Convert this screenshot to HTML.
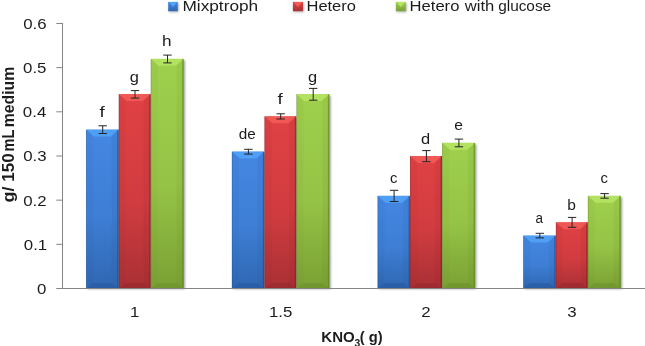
<!DOCTYPE html>
<html><head><meta charset="utf-8"><title>chart</title>
<style>
html,body{margin:0;padding:0;background:#fff;}
body{width:645px;height:346px;overflow:hidden;}
svg{display:block;}
text{font-family:"Liberation Sans",sans-serif;fill:#1c1c1c;stroke:none;}
</style></head><body>
<svg width="645" height="346" viewBox="0 0 645 346">
<defs>
<linearGradient id="gb" x1="0" y1="0" x2="0" y2="1"><stop offset="0" stop-color="#4487e2"/><stop offset="0.55" stop-color="#3e7ed5"/><stop offset="1" stop-color="#2f67b2"/></linearGradient>
<linearGradient id="gr" x1="0" y1="0" x2="0" y2="1"><stop offset="0" stop-color="#e04144"/><stop offset="0.55" stop-color="#d13c40"/><stop offset="1" stop-color="#a93034"/></linearGradient>
<linearGradient id="gg" x1="0" y1="0" x2="0" y2="1"><stop offset="0" stop-color="#9fd04d"/><stop offset="0.55" stop-color="#95c346"/><stop offset="1" stop-color="#7aa134"/></linearGradient>
<linearGradient id="l0" x1="0" y1="0" x2="0" y2="1"><stop offset="0" stop-color="#4487e2"/><stop offset="1" stop-color="#2f67b2"/></linearGradient>
<linearGradient id="l1" x1="0" y1="0" x2="0" y2="1"><stop offset="0" stop-color="#e04144"/><stop offset="1" stop-color="#a93034"/></linearGradient>
<linearGradient id="l2" x1="0" y1="0" x2="0" y2="1"><stop offset="0" stop-color="#9fd04d"/><stop offset="1" stop-color="#7aa134"/></linearGradient>
<filter id="sh" x="-20%" y="-10%" width="150%" height="120%"><feGaussianBlur stdDeviation="0.9"/></filter>
<filter id="bl" x="-20%" y="-50%" width="140%" height="200%"><feGaussianBlur stdDeviation="0.9"/></filter>
<filter id="bm" x="-20%" y="-20%" width="140%" height="140%"><feGaussianBlur stdDeviation="0.45"/></filter>
<filter id="bh" x="-20%" y="-50%" width="140%" height="200%"><feGaussianBlur stdDeviation="0.7"/></filter>
</defs>
<rect width="645" height="346" fill="#fff"/>
<rect x="87.4" y="131.0" width="32.6" height="158.0" fill="#000" opacity="0.38" filter="url(#sh)"/>
<rect x="120.0" y="95.6" width="32.0" height="193.4" fill="#000" opacity="0.38" filter="url(#sh)"/>
<rect x="152.0" y="60.3" width="33.0" height="228.7" fill="#000" opacity="0.38" filter="url(#sh)"/>
<clipPath id="c1"><rect x="86.1" y="129.5" width="32.6" height="159.5"/></clipPath>
<g clip-path="url(#c1)"><rect x="86.1" y="129.5" width="32.6" height="159.5" fill="url(#gb)"/><path d="M86.1 129.5 L93.1 136.5 V283.0 L86.1 289.0 Z" fill="#1d4a8a" opacity="0.05"/><path d="M118.7 129.5 L111.7 136.5 V283.0 L118.7 289.0 Z" fill="#1d4a8a" opacity="0.09"/><path d="M86.1 289.0 L93.1 283.0 H111.7 L118.7 289.0 Z" fill="#1d4a8a" opacity="0.3"/><path d="M85.6 129.0 H119.2 L110.7 136.5 H94.1 Z" fill="#52a4fa" opacity="0.85" filter="url(#bh)"/><rect x="117.2" y="129.5" width="2" height="159.5" fill="#1d4a8a" opacity="0.6" filter="url(#bm)"/><rect x="85.4" y="129.5" width="1.4" height="159.5" fill="#1d4a8a" opacity="0.45" filter="url(#bm)"/></g>
<clipPath id="c2"><rect x="118.7" y="94.1" width="32.0" height="194.9"/></clipPath>
<g clip-path="url(#c2)"><rect x="118.7" y="94.1" width="32.0" height="194.9" fill="url(#gr)"/><path d="M118.7 94.1 L125.7 101.1 V283.0 L118.7 289.0 Z" fill="#7e2023" opacity="0.05"/><path d="M150.7 94.1 L143.7 101.1 V283.0 L150.7 289.0 Z" fill="#7e2023" opacity="0.09"/><path d="M118.7 289.0 L125.7 283.0 H143.7 L150.7 289.0 Z" fill="#7e2023" opacity="0.3"/><path d="M118.2 93.6 H151.2 L142.7 101.1 H126.7 Z" fill="#f25d58" opacity="0.85" filter="url(#bh)"/><rect x="149.2" y="94.1" width="2" height="194.9" fill="#7e2023" opacity="0.6" filter="url(#bm)"/><rect x="118.0" y="94.1" width="1.4" height="194.9" fill="#7e2023" opacity="0.45" filter="url(#bm)"/></g>
<clipPath id="c3"><rect x="150.7" y="58.8" width="33.0" height="230.2"/></clipPath>
<g clip-path="url(#c3)"><rect x="150.7" y="58.8" width="33.0" height="230.2" fill="url(#gg)"/><path d="M150.7 58.8 L157.7 65.8 V283.0 L150.7 289.0 Z" fill="#5e7f26" opacity="0.05"/><path d="M183.7 58.8 L176.7 65.8 V283.0 L183.7 289.0 Z" fill="#5e7f26" opacity="0.09"/><path d="M150.7 289.0 L157.7 283.0 H176.7 L183.7 289.0 Z" fill="#5e7f26" opacity="0.3"/><path d="M150.2 58.3 H184.2 L175.7 65.8 H158.7 Z" fill="#b7e566" opacity="0.85" filter="url(#bh)"/><rect x="182.2" y="58.8" width="2" height="230.2" fill="#5e7f26" opacity="0.6" filter="url(#bm)"/><rect x="150.0" y="58.8" width="1.4" height="230.2" fill="#5e7f26" opacity="0.45" filter="url(#bm)"/></g>
<rect x="233.1" y="153.0" width="32.6" height="136.0" fill="#000" opacity="0.38" filter="url(#sh)"/>
<rect x="265.7" y="117.7" width="32.0" height="171.3" fill="#000" opacity="0.38" filter="url(#sh)"/>
<rect x="297.7" y="95.6" width="33.0" height="193.4" fill="#000" opacity="0.38" filter="url(#sh)"/>
<clipPath id="c4"><rect x="231.8" y="151.5" width="32.6" height="137.5"/></clipPath>
<g clip-path="url(#c4)"><rect x="231.8" y="151.5" width="32.6" height="137.5" fill="url(#gb)"/><path d="M231.8 151.5 L238.8 158.5 V283.0 L231.8 289.0 Z" fill="#1d4a8a" opacity="0.05"/><path d="M264.4 151.5 L257.4 158.5 V283.0 L264.4 289.0 Z" fill="#1d4a8a" opacity="0.09"/><path d="M231.8 289.0 L238.8 283.0 H257.4 L264.4 289.0 Z" fill="#1d4a8a" opacity="0.3"/><path d="M231.3 151.0 H264.9 L256.4 158.5 H239.8 Z" fill="#52a4fa" opacity="0.85" filter="url(#bh)"/><rect x="262.9" y="151.5" width="2" height="137.5" fill="#1d4a8a" opacity="0.6" filter="url(#bm)"/><rect x="231.1" y="151.5" width="1.4" height="137.5" fill="#1d4a8a" opacity="0.45" filter="url(#bm)"/></g>
<clipPath id="c5"><rect x="264.4" y="116.2" width="32.0" height="172.8"/></clipPath>
<g clip-path="url(#c5)"><rect x="264.4" y="116.2" width="32.0" height="172.8" fill="url(#gr)"/><path d="M264.4 116.2 L271.4 123.2 V283.0 L264.4 289.0 Z" fill="#7e2023" opacity="0.05"/><path d="M296.4 116.2 L289.4 123.2 V283.0 L296.4 289.0 Z" fill="#7e2023" opacity="0.09"/><path d="M264.4 289.0 L271.4 283.0 H289.4 L296.4 289.0 Z" fill="#7e2023" opacity="0.3"/><path d="M263.9 115.7 H296.9 L288.4 123.2 H272.4 Z" fill="#f25d58" opacity="0.85" filter="url(#bh)"/><rect x="294.9" y="116.2" width="2" height="172.8" fill="#7e2023" opacity="0.6" filter="url(#bm)"/><rect x="263.7" y="116.2" width="1.4" height="172.8" fill="#7e2023" opacity="0.45" filter="url(#bm)"/></g>
<clipPath id="c6"><rect x="296.4" y="94.1" width="33.0" height="194.9"/></clipPath>
<g clip-path="url(#c6)"><rect x="296.4" y="94.1" width="33.0" height="194.9" fill="url(#gg)"/><path d="M296.4 94.1 L303.4 101.1 V283.0 L296.4 289.0 Z" fill="#5e7f26" opacity="0.05"/><path d="M329.4 94.1 L322.4 101.1 V283.0 L329.4 289.0 Z" fill="#5e7f26" opacity="0.09"/><path d="M296.4 289.0 L303.4 283.0 H322.4 L329.4 289.0 Z" fill="#5e7f26" opacity="0.3"/><path d="M295.9 93.6 H329.9 L321.4 101.1 H304.4 Z" fill="#b7e566" opacity="0.85" filter="url(#bh)"/><rect x="327.9" y="94.1" width="2" height="194.9" fill="#5e7f26" opacity="0.6" filter="url(#bm)"/><rect x="295.7" y="94.1" width="1.4" height="194.9" fill="#5e7f26" opacity="0.45" filter="url(#bm)"/></g>
<rect x="378.8" y="197.2" width="32.6" height="91.8" fill="#000" opacity="0.38" filter="url(#sh)"/>
<rect x="411.4" y="157.4" width="32.0" height="131.6" fill="#000" opacity="0.38" filter="url(#sh)"/>
<rect x="443.4" y="144.2" width="33.0" height="144.8" fill="#000" opacity="0.38" filter="url(#sh)"/>
<clipPath id="c7"><rect x="377.5" y="195.7" width="32.6" height="93.3"/></clipPath>
<g clip-path="url(#c7)"><rect x="377.5" y="195.7" width="32.6" height="93.3" fill="url(#gb)"/><path d="M377.5 195.7 L384.5 202.7 V283.0 L377.5 289.0 Z" fill="#1d4a8a" opacity="0.05"/><path d="M410.1 195.7 L403.1 202.7 V283.0 L410.1 289.0 Z" fill="#1d4a8a" opacity="0.09"/><path d="M377.5 289.0 L384.5 283.0 H403.1 L410.1 289.0 Z" fill="#1d4a8a" opacity="0.3"/><path d="M377.0 195.2 H410.6 L402.1 202.7 H385.5 Z" fill="#52a4fa" opacity="0.85" filter="url(#bh)"/><rect x="408.6" y="195.7" width="2" height="93.3" fill="#1d4a8a" opacity="0.6" filter="url(#bm)"/><rect x="376.8" y="195.7" width="1.4" height="93.3" fill="#1d4a8a" opacity="0.45" filter="url(#bm)"/></g>
<clipPath id="c8"><rect x="410.1" y="155.9" width="32.0" height="133.1"/></clipPath>
<g clip-path="url(#c8)"><rect x="410.1" y="155.9" width="32.0" height="133.1" fill="url(#gr)"/><path d="M410.1 155.9 L417.1 162.9 V283.0 L410.1 289.0 Z" fill="#7e2023" opacity="0.05"/><path d="M442.1 155.9 L435.1 162.9 V283.0 L442.1 289.0 Z" fill="#7e2023" opacity="0.09"/><path d="M410.1 289.0 L417.1 283.0 H435.1 L442.1 289.0 Z" fill="#7e2023" opacity="0.3"/><path d="M409.6 155.4 H442.6 L434.1 162.9 H418.1 Z" fill="#f25d58" opacity="0.85" filter="url(#bh)"/><rect x="440.6" y="155.9" width="2" height="133.1" fill="#7e2023" opacity="0.6" filter="url(#bm)"/><rect x="409.4" y="155.9" width="1.4" height="133.1" fill="#7e2023" opacity="0.45" filter="url(#bm)"/></g>
<clipPath id="c9"><rect x="442.1" y="142.7" width="33.0" height="146.3"/></clipPath>
<g clip-path="url(#c9)"><rect x="442.1" y="142.7" width="33.0" height="146.3" fill="url(#gg)"/><path d="M442.1 142.7 L449.1 149.7 V283.0 L442.1 289.0 Z" fill="#5e7f26" opacity="0.05"/><path d="M475.1 142.7 L468.1 149.7 V283.0 L475.1 289.0 Z" fill="#5e7f26" opacity="0.09"/><path d="M442.1 289.0 L449.1 283.0 H468.1 L475.1 289.0 Z" fill="#5e7f26" opacity="0.3"/><path d="M441.6 142.2 H475.6 L467.1 149.7 H450.1 Z" fill="#b7e566" opacity="0.85" filter="url(#bh)"/><rect x="473.6" y="142.7" width="2" height="146.3" fill="#5e7f26" opacity="0.6" filter="url(#bm)"/><rect x="441.4" y="142.7" width="1.4" height="146.3" fill="#5e7f26" opacity="0.45" filter="url(#bm)"/></g>
<rect x="524.5" y="236.9" width="32.6" height="52.1" fill="#000" opacity="0.38" filter="url(#sh)"/>
<rect x="557.1" y="223.7" width="32.0" height="65.3" fill="#000" opacity="0.38" filter="url(#sh)"/>
<rect x="589.1" y="197.2" width="33.0" height="91.8" fill="#000" opacity="0.38" filter="url(#sh)"/>
<clipPath id="c10"><rect x="523.2" y="235.4" width="32.6" height="53.6"/></clipPath>
<g clip-path="url(#c10)"><rect x="523.2" y="235.4" width="32.6" height="53.6" fill="url(#gb)"/><path d="M523.2 235.4 L530.2 242.4 V283.0 L523.2 289.0 Z" fill="#1d4a8a" opacity="0.05"/><path d="M555.8 235.4 L548.8 242.4 V283.0 L555.8 289.0 Z" fill="#1d4a8a" opacity="0.09"/><path d="M523.2 289.0 L530.2 283.0 H548.8 L555.8 289.0 Z" fill="#1d4a8a" opacity="0.3"/><path d="M522.7 234.9 H556.3 L547.8 242.4 H531.2 Z" fill="#52a4fa" opacity="0.85" filter="url(#bh)"/><rect x="554.3" y="235.4" width="2" height="53.6" fill="#1d4a8a" opacity="0.6" filter="url(#bm)"/><rect x="522.5" y="235.4" width="1.4" height="53.6" fill="#1d4a8a" opacity="0.45" filter="url(#bm)"/></g>
<clipPath id="c11"><rect x="555.8" y="222.2" width="32.0" height="66.8"/></clipPath>
<g clip-path="url(#c11)"><rect x="555.8" y="222.2" width="32.0" height="66.8" fill="url(#gr)"/><path d="M555.8 222.2 L562.8 229.2 V283.0 L555.8 289.0 Z" fill="#7e2023" opacity="0.05"/><path d="M587.8 222.2 L580.8 229.2 V283.0 L587.8 289.0 Z" fill="#7e2023" opacity="0.09"/><path d="M555.8 289.0 L562.8 283.0 H580.8 L587.8 289.0 Z" fill="#7e2023" opacity="0.3"/><path d="M555.3 221.7 H588.3 L579.8 229.2 H563.8 Z" fill="#f25d58" opacity="0.85" filter="url(#bh)"/><rect x="586.3" y="222.2" width="2" height="66.8" fill="#7e2023" opacity="0.6" filter="url(#bm)"/><rect x="555.1" y="222.2" width="1.4" height="66.8" fill="#7e2023" opacity="0.45" filter="url(#bm)"/></g>
<clipPath id="c12"><rect x="587.8" y="195.7" width="33.0" height="93.3"/></clipPath>
<g clip-path="url(#c12)"><rect x="587.8" y="195.7" width="33.0" height="93.3" fill="url(#gg)"/><path d="M587.8 195.7 L594.8 202.7 V283.0 L587.8 289.0 Z" fill="#5e7f26" opacity="0.05"/><path d="M620.8 195.7 L613.8 202.7 V283.0 L620.8 289.0 Z" fill="#5e7f26" opacity="0.09"/><path d="M587.8 289.0 L594.8 283.0 H613.8 L620.8 289.0 Z" fill="#5e7f26" opacity="0.3"/><path d="M587.3 195.2 H621.3 L612.8 202.7 H595.8 Z" fill="#b7e566" opacity="0.85" filter="url(#bh)"/><rect x="619.3" y="195.7" width="2" height="93.3" fill="#5e7f26" opacity="0.6" filter="url(#bm)"/><rect x="587.1" y="195.7" width="1.4" height="93.3" fill="#5e7f26" opacity="0.45" filter="url(#bm)"/></g>
<path d="M62.5 23.0 V289.0 M56.3 288.5 H645" stroke="#858585" stroke-width="1" fill="none"/>
<path d="M56.3 244.33 H62.5" stroke="#858585" stroke-width="1"/>
<path d="M56.3 200.16 H62.5" stroke="#858585" stroke-width="1"/>
<path d="M56.3 155.99 H62.5" stroke="#858585" stroke-width="1"/>
<path d="M56.3 111.82 H62.5" stroke="#858585" stroke-width="1"/>
<path d="M56.3 67.65 H62.5" stroke="#858585" stroke-width="1"/>
<path d="M56.3 23.48 H62.5" stroke="#858585" stroke-width="1"/>
<text transform="translate(37.12,294.00) scale(1.1391,1)" font-size="14.8">0</text>
<text transform="translate(23.81,249.83) scale(1.1391,1)" font-size="14.8">0.1</text>
<text transform="translate(23.21,205.66) scale(1.1391,1)" font-size="14.8">0.2</text>
<text transform="translate(23.13,161.49) scale(1.1391,1)" font-size="14.8">0.3</text>
<text transform="translate(22.87,117.32) scale(1.1391,1)" font-size="14.8">0.4</text>
<text transform="translate(23.04,73.15) scale(1.1391,1)" font-size="14.8">0.5</text>
<text transform="translate(23.13,28.98) scale(1.1391,1)" font-size="14.8">0.6</text>
<path d="M102.7 125.8 V133.5 M98.5 125.8 H106.9 M98.5 133.5 H106.9" stroke="#262222" stroke-width="1.0" fill="none"/>
<text transform="translate(99.62,117.06) scale(1.2749,1)" font-size="14.8">f</text>
<path d="M135.0 90.6 V98.1 M130.8 90.6 H139.2 M130.8 98.1 H139.2" stroke="#262222" stroke-width="1.0" fill="none"/>
<text transform="translate(129.84,81.74) scale(1.1111,1)" font-size="14.8">g</text>
<path d="M167.5 55.1 V62.9 M163.3 55.1 H171.7 M163.3 62.9 H171.7" stroke="#262222" stroke-width="1.0" fill="none"/>
<text transform="translate(162.10,46.42) scale(1.1583,1)" font-size="14.8">h</text>
<path d="M248.4 149.3 V154.1 M244.2 149.3 H252.6 M244.2 154.1 H252.6" stroke="#262222" stroke-width="1.0" fill="none"/>
<text transform="translate(238.64,139.13) scale(1.0349,1)" font-size="14.8">de</text>
<path d="M280.7 113.8 V119.0 M276.5 113.8 H284.9 M276.5 119.0 H284.9" stroke="#262222" stroke-width="1.0" fill="none"/>
<text transform="translate(277.62,103.81) scale(1.2749,1)" font-size="14.8">f</text>
<path d="M313.2 88.4 V100.2 M309.0 88.4 H317.4 M309.0 100.2 H317.4" stroke="#262222" stroke-width="1.0" fill="none"/>
<text transform="translate(308.04,81.74) scale(1.1111,1)" font-size="14.8">g</text>
<path d="M394.1 190.3 V201.5 M389.9 190.3 H398.3 M389.9 201.5 H398.3" stroke="#262222" stroke-width="1.0" fill="none"/>
<text transform="translate(389.93,183.28) scale(1.0057,1)" font-size="14.8">c</text>
<path d="M426.4 150.6 V161.7 M422.2 150.6 H430.6 M422.2 161.7 H430.6" stroke="#262222" stroke-width="1.0" fill="none"/>
<text transform="translate(421.04,143.55) scale(1.1111,1)" font-size="14.8">d</text>
<path d="M458.9 139.1 V146.8 M454.7 139.1 H463.1 M454.7 146.8 H463.1" stroke="#262222" stroke-width="1.0" fill="none"/>
<text transform="translate(454.24,130.30) scale(1.0607,1)" font-size="14.8">e</text>
<path d="M539.8 233.3 V237.9 M535.6 233.3 H544.0 M535.6 237.9 H544.0" stroke="#262222" stroke-width="1.0" fill="none"/>
<text transform="translate(535.44,223.02) scale(0.9141,1)" font-size="14.8">a</text>
<path d="M572.1 217.4 V227.3 M567.9 217.4 H576.3 M567.9 227.3 H576.3" stroke="#262222" stroke-width="1.0" fill="none"/>
<text transform="translate(567.29,209.77) scale(1.0511,1)" font-size="14.8">b</text>
<path d="M604.6 193.6 V198.2 M600.4 193.6 H608.8 M600.4 198.2 H608.8" stroke="#262222" stroke-width="1.0" fill="none"/>
<text transform="translate(600.43,183.28) scale(1.0057,1)" font-size="14.8">c</text>
<text transform="translate(130.11,316.50) scale(1.1391,1)" font-size="14.8">1</text>
<text transform="translate(268.89,316.50) scale(1.1391,1)" font-size="14.8">1.5</text>
<text transform="translate(421.32,316.50) scale(1.1391,1)" font-size="14.8">2</text>
<text transform="translate(567.36,316.50) scale(1.1391,1)" font-size="14.8">3</text>
<text transform="translate(321.32,341.80) scale(1.0298,1)" font-size="14.6" font-weight="bold">KNO</text>
<text transform="translate(354.44,346.90) scale(0.9720,1)" font-size="10.6" font-weight="bold">3</text>
<text transform="translate(359.76,341.80) scale(1.0074,1)" font-size="14.6" font-weight="bold">( g)</text>
<text transform="translate(13.5,202.52) rotate(-90) scale(1.2394,1.0820)" font-size="14.6" font-weight="bold">g/</text>
<text transform="translate(13.5,181.81) rotate(-90) scale(1.1723,1.0820)" font-size="14.6" font-weight="bold">150</text>
<text transform="translate(13.5,151.45) rotate(-90) scale(0.9994,1.0820)" font-size="14.6" font-weight="bold">mL</text>
<text transform="translate(13.5,127.23) rotate(-90) scale(1.0815,1.0820)" font-size="14.6" font-weight="bold">medium</text>
<clipPath id="m0"><rect x="168.1" y="1.8" width="9.8" height="9.6"/></clipPath><rect x="168.9" y="3" width="9.8" height="9.2" fill="#000" opacity="0.3" filter="url(#bl)"/><g clip-path="url(#m0)"><rect x="168.1" y="1.8" width="9.8" height="9.6" fill="url(#l0)"/><path d="M168.6 1.8 h8.8 l-4.4 5.2 Z" fill="#52a4fa" filter="url(#bm)"/></g>
<text transform="translate(182.42,11.10) scale(1.1667,1)" font-size="14.8">Mixptroph</text>
<clipPath id="m1"><rect x="292.7" y="1.8" width="10.4" height="9.6"/></clipPath><rect x="293.5" y="3" width="10.4" height="9.2" fill="#000" opacity="0.3" filter="url(#bl)"/><g clip-path="url(#m1)"><rect x="292.7" y="1.8" width="10.4" height="9.6" fill="url(#l1)"/><path d="M293.2 1.8 h9.4 l-4.7 5.2 Z" fill="#f25d58" filter="url(#bm)"/></g>
<text transform="translate(306.48,11.10) scale(1.1144,1)" font-size="14.8">Hetero</text>
<clipPath id="m2"><rect x="395.7" y="1.8" width="10.2" height="9.6"/></clipPath><rect x="396.5" y="3" width="10.2" height="9.2" fill="#000" opacity="0.3" filter="url(#bl)"/><g clip-path="url(#m2)"><rect x="395.7" y="1.8" width="10.2" height="9.6" fill="url(#l2)"/><path d="M396.2 1.8 h9.2 l-4.6 5.2 Z" fill="#b7e566" filter="url(#bm)"/></g>
<text transform="translate(409.57,11.10) scale(1.1214,1)" font-size="14.8">Hetero</text>
<text transform="translate(464.70,11.10) scale(1.1261,1)" font-size="14.8">with</text>
<text transform="translate(498.18,11.10) scale(1.0397,1)" font-size="14.8">glucose</text>
</svg></body></html>
